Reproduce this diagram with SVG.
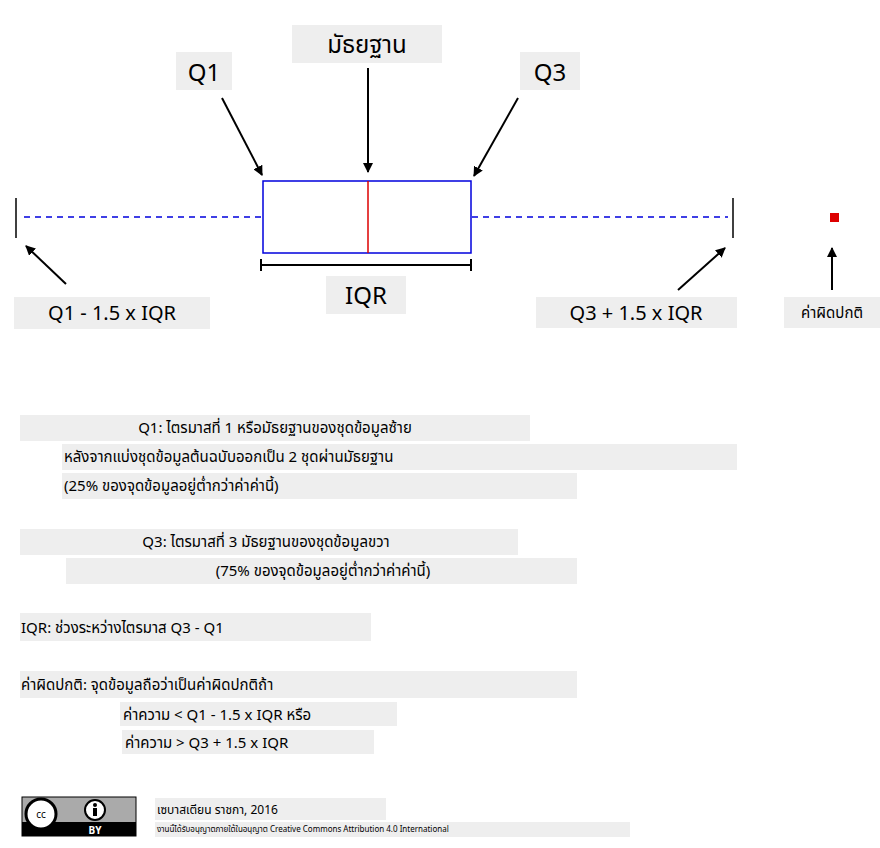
<svg xmlns="http://www.w3.org/2000/svg" width="880" height="848" viewBox="0 0 880 848">
<style>
text{font-family:"Noto Sans","Noto Sans Thai","DejaVu Sans",sans-serif;fill:#000}
.bg{fill:#eeeeee}
.big{font-size:24px}
.mid{font-size:20px}
.sm{font-size:15px}
.arr{stroke:#000;stroke-width:2;fill:none;marker-end:url(#ah)}
</style>
<defs>
<marker id="ah" markerWidth="10" markerHeight="10" refX="9" refY="5" orient="auto" markerUnits="userSpaceOnUse" viewBox="0 0 10 10"><path d="M0,0 L10,5 L0,10 z" fill="#000"/></marker>
</defs>
<rect width="880" height="848" fill="#fff"/>
<g id="plot">
<line x1="24" y1="217" x2="262" y2="217" stroke="#0000dd" stroke-width="1.5" stroke-dasharray="6,5"/>
<line x1="472" y1="217" x2="728" y2="217" stroke="#0000dd" stroke-width="1.5" stroke-dasharray="6,5"/>
<rect x="263" y="181" width="208" height="72" fill="none" stroke="#0000dd" stroke-width="1.5"/>
<line x1="368" y1="181" x2="368" y2="253" stroke="#dd0000" stroke-width="1.5"/>
<line x1="16" y1="198" x2="16" y2="238" stroke="#000" stroke-width="1.5"/>
<line x1="733" y1="198" x2="733" y2="238" stroke="#000" stroke-width="1.5"/>
<rect x="830" y="213" width="9" height="9" fill="#dd0000"/>
<path d="M261,259 V271 M261,265 H471 M471,259 V271" stroke="#000" stroke-width="2" fill="none"/>
</g>
<g id="labels">
<g id="median"><rect class="bg" x="292" y="25" width="150" height="38"/><text class="big" x="367" y="53" text-anchor="middle">มัธยฐาน</text></g>
<g id="q1"><rect class="bg" x="176" y="52" width="56" height="38"/><text class="big" x="204" y="81" text-anchor="middle">Q1</text></g>
<g id="q3"><rect class="bg" x="520" y="52" width="60" height="38"/><text class="big" x="550" y="81" text-anchor="middle">Q3</text></g>
<g id="iqr"><rect class="bg" x="326" y="276" width="80" height="38"/><text class="big" x="366" y="304" text-anchor="middle">IQR</text></g>
<g id="lo"><rect class="bg" x="14" y="297" width="196" height="32"/><text class="mid" x="112" y="320" text-anchor="middle">Q1 - 1.5 x IQR</text></g>
<g id="hi"><rect class="bg" x="536" y="297" width="201" height="31"/><text class="mid" x="636" y="320" text-anchor="middle">Q3 + 1.5 x IQR</text></g>
<g id="out"><rect class="bg" x="784" y="297" width="96" height="31"/><text class="sm" x="832" y="318" text-anchor="middle">ค่าผิดปกติ</text></g>
</g>
<g id="connectors">
<line class="arr" x1="222" y1="98" x2="262" y2="175"/>
<line class="arr" x1="368" y1="68" x2="368" y2="172"/>
<line class="arr" x1="518" y1="98" x2="474" y2="176"/>
<line class="arr" x1="66" y1="284" x2="26" y2="246"/>
<line class="arr" x1="678" y1="290" x2="725" y2="248"/>
<line class="arr" x1="832" y1="290" x2="832" y2="248"/>
</g>
<g id="notes" class="sm">
<rect class="bg" x="20" y="415" width="510" height="26"/><text x="275" y="433" text-anchor="middle">Q1: ไตรมาสที่ 1 หรือมัธยฐานของชุดข้อมูลซ้าย</text>
<rect class="bg" x="62" y="444" width="675" height="26"/><text x="64" y="462">หลังจากแบ่งชุดข้อมูลต้นฉบับออกเป็น 2 ชุดผ่านมัธยฐาน</text>
<rect class="bg" x="62" y="473" width="515" height="26"/><text x="64" y="491">(25% ของจุดข้อมูลอยู่ต่ำกว่าค่าค่านี้)</text>
<rect class="bg" x="20" y="529" width="498" height="26"/><text x="266" y="547" text-anchor="middle">Q3: ไตรมาสที่ 3 มัธยฐานของชุดข้อมูลขวา</text>
<rect class="bg" x="66" y="558" width="511" height="26"/><text x="323" y="576" text-anchor="middle">(75% ของจุดข้อมูลอยู่ต่ำกว่าค่าค่านี้)</text>
<rect class="bg" x="20" y="613" width="351" height="28"/><text x="21" y="633">IQR: ช่วงระหว่างไตรมาส Q3 - Q1</text>
<rect class="bg" x="20" y="671" width="557" height="27"/><text x="21" y="690">ค่าผิดปกติ: จุดข้อมูลถือว่าเป็นค่าผิดปกติถ้า</text>
<rect class="bg" x="120" y="702" width="277" height="24"/><text x="123" y="720">ค่าความ &lt; Q1 - 1.5 x IQR หรือ</text>
<rect class="bg" x="122" y="730" width="252" height="24"/><text x="125" y="748">ค่าความ &gt; Q3 + 1.5 x IQR</text>
</g>
<g id="license">
<rect x="22" y="797" width="114" height="39" fill="#aaaaaa" stroke="#000" stroke-width="1"/>
<rect x="22" y="822" width="114" height="14" fill="#000"/>
<circle cx="41" cy="814" r="15" fill="#fff" stroke="#000" stroke-width="3"/>
<text x="41" y="818" font-size="10" text-anchor="middle">cc</text>
<circle cx="95" cy="810" r="10" fill="#fff" stroke="#000" stroke-width="2"/>
<circle cx="95" cy="805" r="2" fill="#000"/>
<rect x="93" y="808" width="4" height="8" fill="#000"/>
<text x="95" y="834" font-size="10" font-weight="bold" text-anchor="middle" style="fill:#fff">BY</text>
<rect class="bg" x="155" y="798" width="231" height="22"/><text x="157" y="814" font-size="12">เซบาสเตียน ราชกา, 2016</text>
<rect class="bg" x="155" y="822" width="475" height="15"/><text x="157" y="832" font-size="8">งานนี้ได้รับอนุญาตภายใต้ในอนุญาต Creative Commons Attribution 4.0 International</text>
</g>
</svg>
